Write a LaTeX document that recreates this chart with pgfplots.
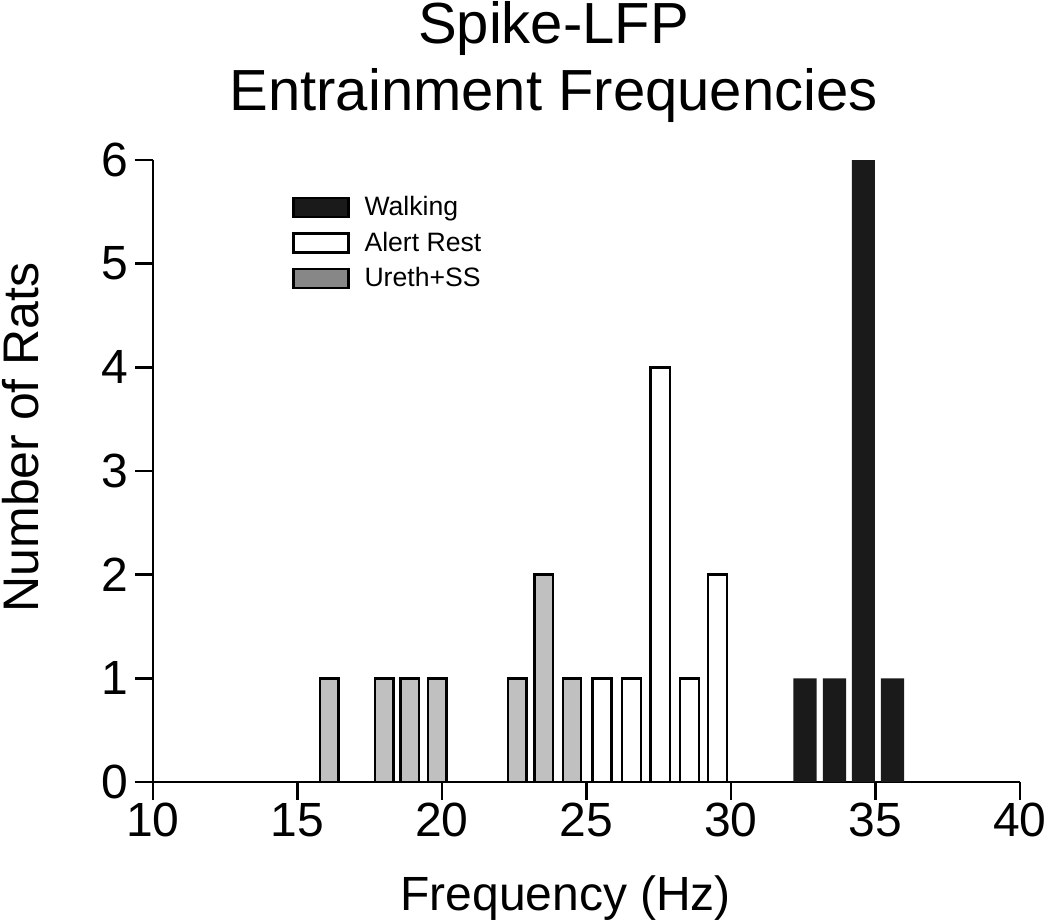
\documentclass[border=0pt]{standalone}
\usepackage{fontspec}
\setmainfont{Liberation Sans}
\usepackage{pgfplots}
\pgfplotsset{compat=1.18}
\definecolor{barblack}{HTML}{1A1A1A}
\definecolor{bargray}{HTML}{C0C0C0}
\definecolor{leggray}{HTML}{878787}
\begin{document}
\begin{tikzpicture}
\path[use as bounding box] (-76.5pt,-69.5pt) rectangle (448.5pt,391pt);
\begin{axis}[
  at={(0pt,0pt)}, anchor=south west,
  scale only axis, width=433.5pt, height=311pt,
  xmin=10, xmax=40, ymin=0, ymax=6,
  clip=false,
  axis x line=bottom, axis y line=left,
  axis line style={-, line width=1.2pt, black},
  xtick={10,15,...,40}, ytick={0,1,...,6},
  tick align=outside, major tick length=9pt,
  major tick style={line width=1.2pt, black},
  minor tick num=0,
  /pgf/number format/assume math mode=true,
  ticklabel style={font=\fontsize{24}{27}\selectfont},
  xticklabel style={inner sep=1pt, text height=17.2pt, text depth=0pt},
  yticklabel style={inner sep=3pt},
  xlabel={Frequency (Hz)},
  xlabel style={at={(axis description cs:0.476,-0.2058)}, anchor=base, font=\fontsize{24}{27}\selectfont},
  ylabel={Number of Rats},
  ylabel style={at={(axis description cs:-0.1315,0.554)}, anchor=base, rotate=0, font=\fontsize{25}{28}\selectfont},
  legend image code/.code={\draw[#1] (0pt,-4.75pt) rectangle (27.5pt,4.75pt);},
  legend style={at={(axis description cs:0.16,0.945)}, anchor=north west, draw=none, fill=none,
    inner sep=0pt, row sep=4.5pt, font=\fontsize{13.3}{15}\selectfont,
    nodes={inner sep=1pt},
    /tikz/every odd column/.append style={column sep=6.5pt}},
  legend cell align=left,
]
% legend
\addlegendimage{fill=barblack, draw=black, line width=1.2pt}
\addlegendentry{Walking}
\addlegendimage{fill=white, draw=black, line width=1.2pt}
\addlegendentry{Alert Rest}
\addlegendimage{fill=leggray, draw=black, line width=1.2pt}
\addlegendentry{Ureth+SS}
% Ureth+SS
\addplot[ybar, bar width=0.64, bar shift=0pt, fill=bargray, draw=black, line width=1.2pt, forget plot]
  coordinates {(16.1,1) (18.0,1) (18.88,1) (19.83,1) (22.6,1) (23.52,2) (24.5,1)};
% Alert Rest
\addplot[ybar, bar width=0.66, bar shift=0pt, fill=white, draw=black, line width=1.2pt, forget plot]
  coordinates {(25.54,1) (26.55,1) (27.55,4) (28.57,1) (29.54,2)};
% Walking
\addplot[ybar, bar width=0.8, bar shift=0pt, fill=barblack, draw=none, forget plot]
  coordinates {(32.56,1) (33.58,1) (34.58,6) (35.59,1)};
\node[anchor=base, font=\fontsize{29}{33}\selectfont] at (rel axis cs:0.462,1.188) {Spike-LFP};
\node[anchor=base, font=\fontsize{29}{33}\selectfont] at (rel axis cs:0.462,1.080) {Entrainment Frequencies};
\end{axis}
\end{tikzpicture}
\end{document}
